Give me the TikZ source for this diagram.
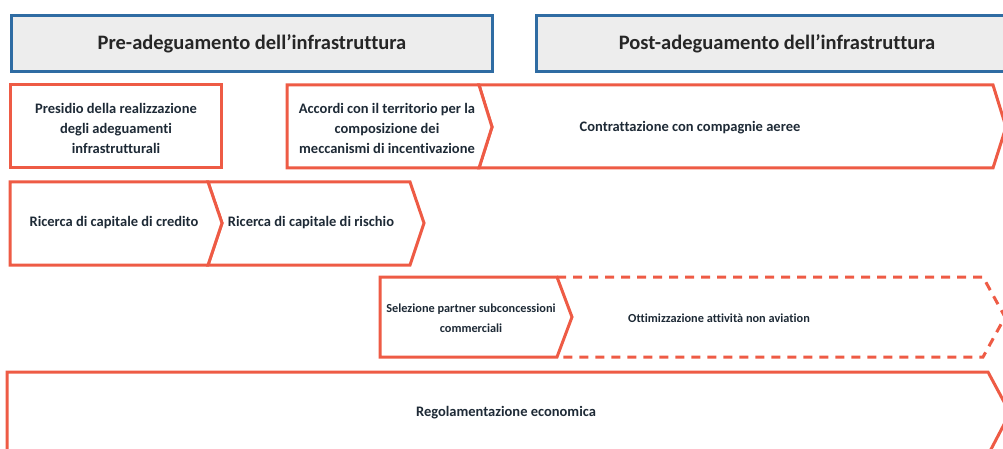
\documentclass[tikz,border=0pt]{standalone}
\usepackage{fontspec}
\setmainfont{Carlito}[Ligatures=NoCommon]
\definecolor{stepred}{HTML}{EE5B45}
\definecolor{phaseblue}{HTML}{2F6CA3}
\definecolor{phasegray}{HTML}{EDEDED}
\definecolor{textdark}{HTML}{1E2A36}
\begin{document}
\begin{tikzpicture}[x=1pt,y=-1pt,
    phase/.style={draw=phaseblue,line width=3pt,fill=phasegray},
    phasetext/.style={font=\fontsize{20.5}{24}\selectfont\bfseries,text=black!85},
    stepbox/.style={draw=stepred,line width=3pt,line join=miter,fill=white},
    stepdash/.style={draw=stepred,line width=3pt,dash pattern=on 9pt off 7pt},
    steptext/.style={font=\fontsize{14.5}{20}\selectfont\bfseries,text=textdark,align=center},
    smalltext/.style={steptext,font=\fontsize{12.3}{20}\selectfont\bfseries}]
    \useasboundingbox (0,0) rectangle (1003,449);
    % phases
    \draw[phase] (11,16) rectangle (492,72);
    \draw[phase] (536,16) rectangle (1012,72);
    \node[phasetext] (pre) at (252,44) {Pre-adeguamento dell’infrastruttura};
    \node[phasetext] (post) at (777,44) {Post-adeguamento dell’infrastruttura};
    % row 1
    \draw[stepbox] (10,85) rectangle (221,168);
    \draw[stepbox] (479,85) -- (993,85) -- (1006,127) -- (993,168) -- (479,168) -- (492,127) -- cycle;
    \draw[stepbox] (287,85) -- (479,85) -- (492,127) -- (479,168) -- (287,168) -- cycle;
    \node[steptext] (presidio) at (116,128) {Presidio della realizzazione\\degli adeguamenti\\infrastrutturali};
    \node[steptext] (accordi) at (387,128) {Accordi con il territorio per la\\composizione dei\\meccanismi di incentivazione};
    \node[steptext] (contratti) at (690,128) {Contrattazione con compagnie aeree};
    % row 2
    \draw[stepbox] (208,182) -- (410,182) -- (424,223) -- (410,265) -- (208,265) -- (222,223) -- cycle;
    \draw[stepbox] (10,182) -- (208,182) -- (222,223) -- (208,265) -- (10,265) -- cycle;
    \node[steptext] (credito) at (114,223) {Ricerca di capitale di credito};
    \node[steptext] (rischio) at (311,223) {Ricerca di capitale di rischio};
    % row 3
    \draw[stepdash] (557,277) -- (983,277) -- (1005,317) -- (983,357) -- (557,357);
    \draw[stepbox] (380,277) -- (557,277) -- (572,317) -- (557,357) -- (380,357) -- cycle;
    \node[smalltext] (selezione) at (471,318) {Selezione partner subconcessioni\\commerciali};
    \node[smalltext] (nonaviation) at (719,318) {Ottimizzazione attività non aviation};
    % row 4
    \draw[stepbox] (7,372) -- (988,372) -- (1010,413) -- (988,455) -- (7,455) -- cycle;
    \node[steptext] (regole) at (506,413) {Regolamentazione economica};
\end{tikzpicture}
\end{document}
